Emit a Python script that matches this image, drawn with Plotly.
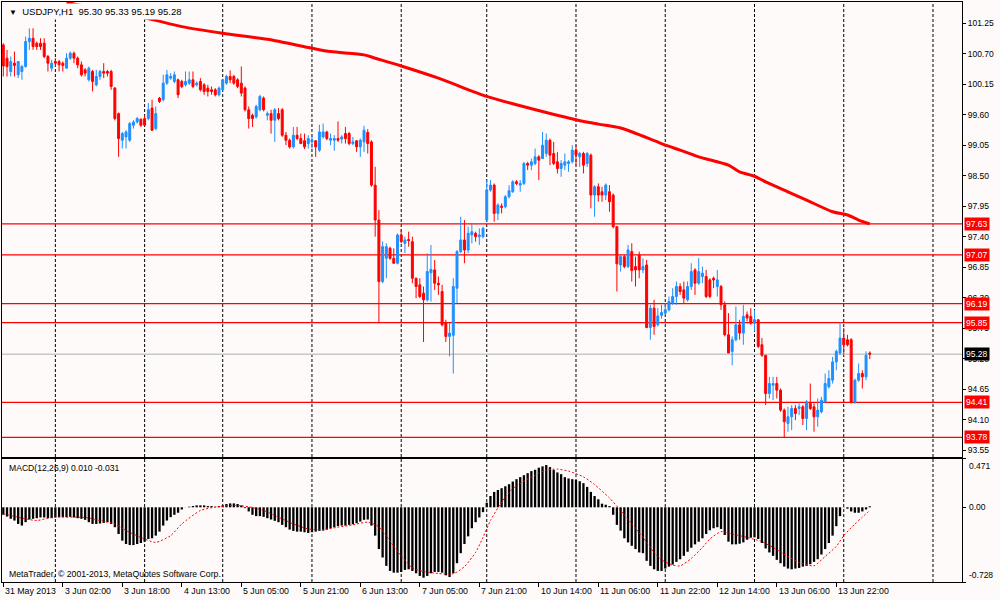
import plotly.graph_objects as go

# ---------------- data ----------------
opens = [100.86, 100.62, 100.38, 100.53, 100.32, 100.38, 100.47, 100.92, 100.98, 100.89,
         100.89, 100.89, 100.65, 100.44, 100.56, 100.56, 100.53, 100.44, 100.62, 100.71,
         100.62, 100.50, 100.41, 100.23, 100.38, 100.14, 100.29, 100.38, 100.38, 100.38,
         100.08, 99.62, 99.14, 99.20, 99.14, 99.41, 99.47, 99.52, 99.53, 99.53,
         99.72, 99.35, 99.90, 99.87, 100.17, 100.26, 100.20, 100.23, 100.20, 100.14,
         100.17, 100.23, 100.14, 100.20, 100.14, 100.08, 100.05, 100.05, 99.96, 100.05,
         100.17, 100.29, 100.29, 100.23, 100.17, 100.08, 99.69, 99.59, 99.56, 99.69,
         99.90, 99.59, 99.62, 99.50, 99.62, 99.69, 99.23, 99.14, 99.02, 99.23,
         99.17, 99.13, 99.08, 99.11, 99.13, 98.96, 99.20, 99.29, 99.14, 99.14,
         99.17, 99.16, 99.26, 99.26, 99.08, 99.13, 99.02, 99.11, 99.28, 99.11,
         98.33, 97.70, 96.59, 97.01, 97.19, 97.01, 96.92, 97.43, 97.28, 97.35,
         97.31, 96.65, 96.53, 96.38, 96.26, 96.75, 96.80, 96.56, 96.41, 95.84,
         95.60, 95.62, 96.47, 97.13, 97.34, 97.16, 97.43, 97.46, 97.40, 97.40,
         97.70, 98.24, 98.33, 97.82, 97.95, 97.94, 98.12, 98.21, 98.39, 98.33,
         98.36, 98.72, 98.69, 98.72, 98.84, 98.81, 98.90, 99.14, 98.90, 98.75,
         98.63, 98.69, 98.72, 98.75, 98.96, 98.84, 98.90, 98.72, 98.87, 98.15,
         98.30, 98.21, 98.15, 98.21, 98.15, 97.58, 96.89, 97.04, 96.86, 97.13,
         96.86, 97.07, 96.80, 96.89, 95.76, 96.11, 95.81, 95.98, 96.02, 96.08,
         96.20, 96.32, 96.50, 96.44, 96.26, 96.50, 96.80, 96.56, 96.68, 96.68,
         96.62, 96.65, 96.50, 96.50, 96.17, 95.63, 95.33, 95.54, 95.81, 95.66,
         95.99, 95.96, 95.84, 95.90, 95.45, 95.26, 94.57, 94.72, 94.75, 94.63,
         94.27, 94.03, 94.15, 94.30, 94.30, 94.33, 94.12, 94.39, 94.33, 94.15,
         94.24, 94.42, 94.69, 94.81, 95.14, 95.30, 95.57, 95.54, 95.54, 94.41,
         94.81, 94.93, 94.87, 95.30]

highs = [100.89, 100.77, 100.65, 100.74, 100.56, 100.50, 101.01, 101.16, 101.16, 100.92,
         100.98, 100.98, 100.68, 100.59, 100.62, 100.59, 100.56, 100.71, 100.74, 100.74,
         100.65, 100.56, 100.44, 100.47, 100.41, 100.41, 100.41, 100.53, 100.41, 100.41,
         100.10, 99.64, 99.29, 99.32, 99.47, 99.50, 99.56, 99.53, 99.59, 99.81,
         99.87, 99.75, 99.92, 100.32, 100.41, 100.35, 100.38, 100.25, 100.23, 100.38,
         100.38, 100.38, 100.20, 100.26, 100.17, 100.14, 100.11, 100.08, 100.11, 100.25,
         100.32, 100.40, 100.32, 100.26, 100.47, 100.11, 99.75, 99.62, 99.78, 99.96,
         99.93, 99.66, 99.69, 99.72, 99.72, 99.72, 99.29, 99.17, 99.38, 99.38,
         99.26, 99.26, 99.23, 99.23, 99.14, 99.42, 99.44, 99.31, 99.26, 99.23,
         99.48, 99.23, 99.38, 99.29, 99.20, 99.14, 99.17, 99.40, 99.34, 99.14,
         98.66, 97.88, 97.31, 97.28, 97.22, 97.19, 97.46, 97.53, 97.40, 97.49,
         97.40, 96.66, 96.65, 96.50, 97.10, 97.25, 96.98, 96.68, 96.53, 95.90,
         95.84, 96.65, 97.16, 97.76, 97.70, 97.58, 97.64, 97.49, 97.55, 97.58,
         98.42, 98.42, 98.36, 98.00, 98.00, 98.15, 98.33, 98.42, 98.42, 98.42,
         98.75, 98.75, 98.81, 98.99, 98.87, 99.29, 99.26, 99.17, 99.11, 98.93,
         98.78, 98.90, 98.78, 99.05, 99.05, 98.93, 98.93, 98.93, 98.90, 98.33,
         98.36, 98.30, 98.36, 98.33, 98.18, 97.58, 97.07, 97.07, 97.25, 97.28,
         97.04, 97.13, 97.01, 96.98, 96.17, 96.26, 96.11, 96.17, 96.20, 96.32,
         96.47, 96.59, 96.56, 96.59, 96.59, 96.92, 96.83, 97.01, 96.86, 96.80,
         96.65, 96.68, 96.80, 96.53, 96.23, 96.02, 95.60, 96.14, 95.90, 96.17,
         96.05, 96.11, 96.08, 95.91, 95.57, 95.26, 94.87, 94.87, 94.87, 94.66,
         94.30, 94.33, 94.36, 94.36, 94.39, 94.36, 94.45, 94.75, 94.39, 94.48,
         94.51, 94.93, 94.99, 95.23, 95.36, 95.85, 95.75, 95.63, 95.57, 94.84,
         95.11, 94.99, 95.33, 95.33]

lows = [100.29, 100.29, 100.29, 100.29, 100.26, 100.23, 100.45, 100.77, 100.77, 100.77,
        100.77, 100.62, 100.38, 100.38, 100.47, 100.38, 100.38, 100.44, 100.59, 100.53,
        100.44, 100.29, 100.29, 100.20, 100.02, 100.11, 100.23, 100.26, 100.29, 100.05,
        99.50, 98.84, 98.99, 98.99, 99.11, 99.35, 99.44, 99.38, 99.40, 99.50,
        99.31, 99.32, 99.81, 99.84, 100.14, 100.23, 100.17, 99.90, 100.08, 100.11,
        100.14, 100.08, 100.11, 100.02, 99.96, 99.93, 99.96, 99.93, 99.93, 100.02,
        100.14, 100.17, 100.14, 100.08, 99.93, 99.66, 99.35, 99.38, 99.53, 99.66,
        99.66, 99.50, 99.26, 99.11, 99.50, 99.20, 99.05, 98.99, 98.99, 99.14,
        99.07, 98.98, 98.99, 98.99, 98.84, 98.93, 99.17, 99.14, 99.05, 98.95,
        99.11, 99.08, 99.08, 99.05, 99.05, 98.93, 98.84, 98.93, 98.90, 98.30,
        97.40, 95.84, 96.56, 96.65, 96.98, 96.91, 96.90, 97.28, 97.10, 97.22,
        96.56, 96.29, 96.29, 95.50, 96.23, 96.23, 96.44, 96.35, 95.78, 95.50,
        95.24, 94.93, 96.20, 97.10, 96.92, 97.10, 97.28, 97.31, 97.25, 97.37,
        97.67, 98.21, 97.67, 97.70, 97.82, 97.91, 98.09, 98.19, 98.33, 98.21,
        98.33, 98.60, 98.60, 98.69, 98.42, 98.80, 98.84, 98.69, 98.69, 98.54,
        98.48, 98.60, 98.57, 98.72, 98.69, 98.66, 98.54, 98.66, 97.91, 97.76,
        98.03, 98.03, 98.06, 97.85, 97.55, 96.41, 96.77, 96.83, 96.83, 96.59,
        96.50, 96.65, 96.74, 95.75, 95.54, 95.63, 95.78, 95.92, 95.99, 96.05,
        96.17, 96.17, 96.35, 96.20, 96.23, 96.44, 96.35, 96.53, 96.56, 96.29,
        96.29, 96.47, 96.32, 96.08, 95.60, 95.30, 95.08, 95.51, 95.54, 95.45,
        95.87, 95.81, 95.69, 95.39, 95.23, 94.36, 94.48, 94.45, 94.48, 94.24,
        93.78, 93.88, 93.91, 94.09, 94.18, 94.00, 93.91, 94.27, 93.88, 93.97,
        94.21, 94.39, 94.66, 94.75, 94.99, 95.27, 95.27, 95.42, 94.39, 94.38,
        94.78, 94.66, 94.81, 95.19]

closes = [100.48, 100.47, 100.56, 100.49, 100.56, 100.47, 100.92, 100.98, 100.83, 100.83,
          100.83, 100.65, 100.53, 100.53, 100.53, 100.50, 100.49, 100.62, 100.71, 100.62,
          100.50, 100.32, 100.35, 100.44, 100.20, 100.29, 100.38, 100.35, 100.35, 100.11,
          99.53, 99.17, 99.26, 99.29, 99.44, 99.47, 99.53, 99.41, 99.41, 99.69,
          99.32, 99.62, 99.84, 100.17, 100.32, 100.29, 100.32, 99.96, 100.11, 100.20,
          100.23, 100.11, 100.17, 100.05, 100.02, 100.02, 100.02, 99.96, 100.08, 100.23,
          100.29, 100.23, 100.17, 100.11, 99.99, 99.69, 99.53, 99.53, 99.75, 99.93,
          99.69, 99.62, 99.50, 99.69, 99.53, 99.23, 99.14, 99.02, 99.23, 99.17,
          99.08, 99.02, 99.17, 99.14, 99.02, 99.29, 99.29, 99.17, 99.17, 99.17,
          99.14, 99.20, 99.17, 99.08, 99.11, 99.02, 99.14, 99.32, 99.08, 98.33,
          97.70, 96.59, 97.22, 97.22, 97.01, 96.92, 97.43, 97.31, 97.34, 97.33,
          96.65, 96.50, 96.32, 96.26, 96.77, 96.81, 96.56, 96.53, 95.81, 95.60,
          95.66, 96.50, 97.13, 97.34, 97.16, 97.46, 97.49, 97.40, 97.43, 97.55,
          98.24, 98.33, 97.82, 97.97, 97.93, 98.12, 98.23, 98.39, 98.36, 98.36,
          98.72, 98.69, 98.75, 98.84, 98.78, 99.05, 99.14, 98.87, 98.72, 98.63,
          98.72, 98.75, 98.75, 98.96, 98.87, 98.90, 98.69, 98.90, 98.15, 98.30,
          98.15, 98.15, 98.33, 98.03, 97.58, 96.91, 97.04, 96.86, 97.16, 96.79,
          96.80, 96.80, 96.86, 95.76, 96.11, 95.78, 95.97, 96.03, 96.08, 96.23,
          96.32, 96.50, 96.41, 96.29, 96.50, 96.77, 96.56, 96.77, 96.74, 96.32,
          96.32, 96.62, 96.62, 96.17, 95.63, 95.30, 95.54, 95.81, 95.66, 95.96,
          95.93, 95.84, 95.90, 95.42, 95.26, 94.57, 94.75, 94.75, 94.63, 94.27,
          94.06, 94.15, 94.30, 94.21, 94.33, 94.12, 94.42, 94.30, 94.15, 94.27,
          94.45, 94.75, 94.84, 95.14, 95.33, 95.57, 95.45, 95.45, 94.41, 94.81,
          94.93, 94.87, 95.26, 95.28]

# moving average, read at sample bars
ma_bars = [17, 21, 33, 38, 48, 59, 71, 83, 88, 97, 100, 107, 117, 130, 138, 154, 160, 166,
           177, 182, 187, 195, 198, 202, 205, 211, 216, 223, 227, 230, 233]
ma_vals = [101.63, 101.57, 101.40, 101.35, 101.19, 101.07, 100.96, 100.80, 100.74, 100.68,
           100.62, 100.48, 100.26, 99.93, 99.78, 99.51, 99.43, 99.36, 99.08, 98.96, 98.84,
           98.69, 98.57, 98.49, 98.39, 98.21, 98.06, 97.85, 97.79, 97.70, 97.63]

# MACD main (histogram), one per bar
macd_main = [-0.073, -0.090, -0.112, -0.129, -0.162, -0.178, -0.145, -0.119, -0.112, -0.106,
             -0.099, -0.099, -0.106, -0.106, -0.099, -0.096, -0.096, -0.096, -0.093, -0.099,
             -0.106, -0.112, -0.122, -0.145, -0.162, -0.162, -0.158, -0.152, -0.145, -0.162,
             -0.194, -0.260, -0.325, -0.358, -0.368, -0.368, -0.358, -0.348, -0.335, -0.309,
             -0.302, -0.276, -0.237, -0.178, -0.129, -0.096, -0.073, -0.053, -0.021, -0.001,
             0.006, 0.012, 0.019, 0.019, 0.019, 0.012, 0.012, 0.006, 0.012, 0.019,
             0.032, 0.038, 0.038, 0.032, 0.019, -0.008, -0.040, -0.073, -0.086, -0.086,
             -0.093, -0.106, -0.119, -0.132, -0.145, -0.171, -0.194, -0.217, -0.230, -0.237,
             -0.237, -0.243, -0.250, -0.243, -0.237, -0.230, -0.227, -0.217, -0.204, -0.194,
             -0.184, -0.178, -0.178, -0.171, -0.165, -0.155, -0.139, -0.122, -0.119, -0.178,
             -0.276, -0.407, -0.489, -0.571, -0.620, -0.637, -0.637, -0.630, -0.610, -0.604,
             -0.620, -0.643, -0.669, -0.686, -0.669, -0.643, -0.630, -0.630, -0.637, -0.663,
             -0.679, -0.643, -0.545, -0.447, -0.358, -0.283, -0.204, -0.145, -0.099, -0.047,
             0.045, 0.110, 0.150, 0.169, 0.186, 0.205, 0.225, 0.251, 0.274, 0.294,
             0.313, 0.333, 0.353, 0.366, 0.386, 0.399, 0.412, 0.392, 0.363, 0.340,
             0.323, 0.294, 0.281, 0.274, 0.268, 0.254, 0.235, 0.199, 0.150, 0.110,
             0.078, 0.035, 0.025, 0.012, -0.073, -0.171, -0.227, -0.302, -0.342, -0.375,
             -0.407, -0.440, -0.447, -0.522, -0.571, -0.604, -0.620, -0.620, -0.597, -0.578,
             -0.558, -0.532, -0.506, -0.473, -0.433, -0.394, -0.361, -0.335, -0.302, -0.260,
             -0.224, -0.204, -0.194, -0.211, -0.270, -0.335, -0.361, -0.361, -0.355, -0.342,
             -0.316, -0.296, -0.293, -0.309, -0.348, -0.401, -0.440, -0.473, -0.512, -0.545,
             -0.578, -0.597, -0.604, -0.597, -0.591, -0.578, -0.571, -0.555, -0.532, -0.506,
             -0.460, -0.407, -0.348, -0.276, -0.184, -0.086, 0.002, -0.014, -0.040, -0.053,
             -0.053, -0.040, -0.021, 0.010]

# MACD signal, read at sample bars
signal_bars = [0, 6, 9, 13, 22, 26, 30, 33, 38, 41, 45, 48, 53, 57, 62, 66, 70, 74, 78, 82,
               86, 90, 94, 98, 101, 104, 106, 110, 113, 117, 121, 124, 127, 129, 131, 134, 137, 140, 143, 146,
               149, 152, 156, 159, 163, 166, 169, 172, 175, 177, 180, 182, 185, 188, 190, 193, 196, 200, 204, 207,
               211, 214, 218, 221, 224, 226, 229, 231, 233]
signal_vals = [-0.063, -0.112, -0.129, -0.099, -0.099, -0.129, -0.162, -0.227, -0.309, -0.342,
               -0.276, -0.162, -0.031, 0.002, 0.019, 0.005, -0.031, -0.096, -0.162, -0.211,
               -0.217, -0.194, -0.171, -0.145, -0.190, -0.330, -0.430, -0.590, -0.625, -0.645,
               -0.648, -0.578, -0.440, -0.293, -0.129, 0.051, 0.182, 0.254, 0.313, 0.363,
               0.372, 0.353, 0.297, 0.222, 0.091, -0.031, -0.162, -0.293, -0.440, -0.512,
               -0.564, -0.571, -0.499, -0.391, -0.309, -0.237, -0.260, -0.293, -0.335, -0.391,
               -0.479, -0.538, -0.570, -0.479, -0.381, -0.276, -0.162, -0.096, -0.031]

levels = [97.63, 97.07, 96.19, 95.85, 94.41, 93.78]
bid = 95.28
price_ticks = [101.25, 100.70, 100.15, 99.60, 99.05, 98.50, 97.95, 97.40, 96.85,
               96.30, 95.75, 95.20, 94.65, 94.10, 93.55]
macd_scale = [0.471, 0.0, -0.728]
macd_scale_text = ["0.471", "0.00", "-0.728"]
time_labels = ["31 May 2013", "3 Jun 02:00", "3 Jun 18:00", "4 Jun 13:00", "5 Jun 05:00",
               "5 Jun 21:00", "6 Jun 13:00", "7 Jun 05:00", "7 Jun 21:00", "10 Jun 14:00",
               "11 Jun 06:00", "11 Jun 22:00", "12 Jun 14:00", "13 Jun 06:00", "13 Jun 22:00"]
label_bars = [0, 16, 32, 48, 64, 80, 96, 112, 128, 144, 160, 176, 192, 208, 224]
day_starts = [14, 38, 59, 83, 107, 130, 154, 178, 202, 226, 250]

# ---------------- styling ----------------
BG = "#FEFAF9"
FONT = "Liberation Sans, Arial, sans-serif"
BLUE = "#1E90FF"
RED = "#FF0000"
XR = [-0.35, 257.8]
idx = list(range(len(closes)))

fig = go.Figure()
fig.add_trace(go.Candlestick(
    x=idx, open=opens, high=highs, low=lows, close=closes,
    increasing=dict(line=dict(color=BLUE, width=1), fillcolor=BLUE),
    decreasing=dict(line=dict(color=RED, width=1), fillcolor=RED),
    xaxis="x", yaxis="y", showlegend=False, hoverinfo="skip"))
fig.add_trace(go.Scatter(
    x=ma_bars, y=ma_vals, mode="lines",
    line=dict(color=RED, width=3, shape="spline", smoothing=0.8),
    xaxis="x", yaxis="y", showlegend=False, hoverinfo="skip"))
fig.add_trace(go.Bar(
    x=idx, y=macd_main, width=0.62, marker=dict(color="#000000", line=dict(width=0)),
    xaxis="x2", yaxis="y2", showlegend=False, hoverinfo="skip"))
fig.add_trace(go.Scatter(
    x=signal_bars, y=signal_vals, mode="lines",
    line=dict(color=RED, width=1, dash="2px,2px", shape="spline", smoothing=0.6),
    xaxis="x2", yaxis="y2", showlegend=False, hoverinfo="skip"))

shapes = []
for d in day_starts:
    for xr, yr in (("x", "y domain"), ("x2", "y2 domain")):
        shapes.append(dict(type="line", xref=xr, yref=yr, x0=d, x1=d, y0=0, y1=1,
                           line=dict(color="#000000", width=1, dash="3px,2px"), layer="below"))
for lv in levels:
    shapes.append(dict(type="line", xref="x domain", yref="y", x0=0, x1=1, y0=lv, y1=lv,
                       line=dict(color=RED, width=1.3), layer="below"))
shapes.append(dict(type="line", xref="x domain", yref="y", x0=0, x1=1, y0=bid, y1=bid,
                   line=dict(color="#C8C8C8", width=1.5), layer="below"))

ann = []
ann.append(dict(xref="paper", yref="paper", x=0, y=1, xanchor="left", yanchor="top",
                xshift=4, yshift=-1, showarrow=False, bgcolor=BG, borderpad=2,
                text="<span style='font-size:8px'>▼</span>  USDJPY,H1  %.2f %.2f %.2f %.2f"
                     % (opens[-1], highs[-1], lows[-1], closes[-1]),
                font=dict(family=FONT, size=9.5, color="#000000")))
ann.append(dict(xref="paper", yref="y2 domain", x=0, y=1, xanchor="left", yanchor="top",
                xshift=5, yshift=-2, showarrow=False,
                text="MACD(12,26,9) %.3f %.3f" % (macd_main[-1], signal_vals[-1]),
                font=dict(family=FONT, size=8.6, color="#000000")))
ann.append(dict(xref="paper", yref="y2 domain", x=0, y=0, xanchor="left", yanchor="bottom",
                xshift=5, yshift=1, showarrow=False,
                text="MetaTrader, © 2001-2013, MetaQuotes Software Corp.",
                font=dict(family=FONT, size=8.7, color="#000000")))
for lv in levels:
    ann.append(dict(xref="paper", yref="y", x=1, y=lv, xanchor="left", yanchor="middle",
                    xshift=2, showarrow=False, bgcolor=RED, borderpad=1,
                    text="%.2f" % lv, font=dict(family=FONT, size=8.5, color="#FFFFFF")))
ann.append(dict(xref="paper", yref="y", x=1, y=bid, xanchor="left", yanchor="middle",
                xshift=2, showarrow=False, bgcolor="#000000", borderpad=1,
                text="%.2f" % bid, font=dict(family=FONT, size=8.5, color="#FFFFFF")))
anchors = ["top", "middle", "bottom"]
for v, t, a in zip(macd_scale, macd_scale_text, anchors):
    ann.append(dict(xref="paper", yref="y2", x=1, y=v, xanchor="left", yanchor=a,
                    xshift=5, showarrow=False, text=t,
                    font=dict(family=FONT, size=8.5, color="#000000")))
for b, t in zip(label_bars, time_labels):
    ann.append(dict(xref="x2", yref="paper", x=b, y=0, xanchor="left", yanchor="top",
                    xshift=0, yshift=-2, showarrow=False, text=t,
                    font=dict(family=FONT, size=8.8, color="#000000")))

axis_common = dict(showgrid=False, zeroline=False, showline=True, mirror=True,
                   linecolor="#000000", linewidth=1, fixedrange=True)

fig.update_layout(
    width=1000, height=600, margin=dict(l=2, r=38, t=2, b=18),
    paper_bgcolor=BG, plot_bgcolor=BG, showlegend=False, hovermode=False,
    boxgap=0.25,
    xaxis=dict(domain=[0, 1], range=XR, anchor="y", showticklabels=False, ticks="",
               rangeslider=dict(visible=False), **axis_common),
    yaxis=dict(domain=[0.2155, 1], range=[93.424, 101.634], anchor="x", side="right",
               tickvals=price_ticks, ticktext=["%.2f" % v for v in price_ticks],
               ticks="outside", ticklen=3, tickcolor="#000000",
               tickfont=dict(family=FONT, size=8.5, color="#000000"), **axis_common),
    xaxis2=dict(domain=[0, 1], range=XR, anchor="y2", showticklabels=False,
                ticks="outside", ticklen=4, tickcolor="#000000", tickvals=label_bars,
                **axis_common),
    yaxis2=dict(domain=[0, 0.2121], range=[-0.728, 0.471], anchor="x2", side="right",
                tickvals=macd_scale, ticks="outside", ticklen=3, tickcolor="#000000",
                showticklabels=False, **axis_common),
    shapes=shapes, annotations=ann,
)

fig.write_html("out.html", config={"displayModeBar": False, "staticPlot": True},
               post_script="document.body.style.margin='0';document.body.style.overflow='hidden';")
